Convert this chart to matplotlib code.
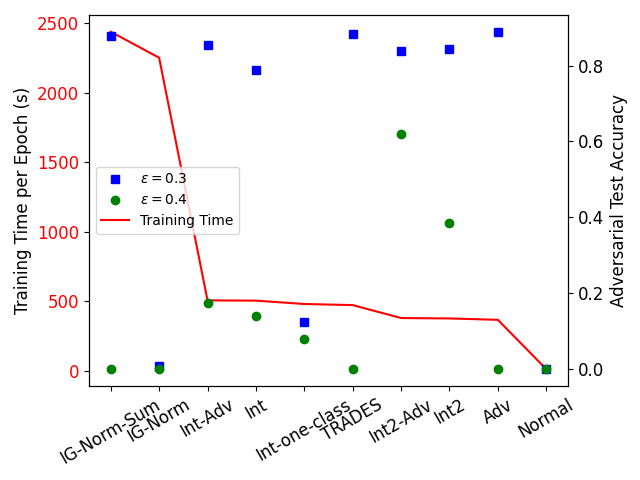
import numpy as np
import matplotlib.pyplot as plt

methods = ["IG-Norm-Sum", "IG-Norm", "Int-Adv", "Int", "Int-one-class",
           "TRADES", "Int2-Adv", "Int2", "Adv", "Normal"]
train_time = [2440, 2253, 508, 506, 482, 474, 381, 378, 368, 14]
acc_eps03 = [0.879, 0.008, 0.855, 0.789, 0.123, 0.884, 0.839, 0.844, 0.889, 0.0]
acc_eps04 = [0.0, 0.0, 0.174, 0.140, 0.078, 0.0, 0.620, 0.385, 0.0, 0.0]

x = np.arange(len(methods))

fig, ax1 = plt.subplots(figsize=(6.4, 4.8))
line, = ax1.plot(x, train_time, color="red", label="Training Time")
ax1.set_ylabel("Training Time per Epoch (s)", fontsize=12)
ax1.tick_params(axis="y", labelcolor="red", labelsize=12)
ax1.set_xticks(x)
ax1.set_xticklabels(methods, rotation=30, fontsize=12)

ax2 = ax1.twinx()
p1, = ax2.plot(x, acc_eps03, "s", color="blue", linestyle="none", label=r"$\epsilon=0.3$")
p2, = ax2.plot(x, acc_eps04, "o", color="green", linestyle="none", label=r"$\epsilon=0.4$")
ax2.set_ylabel("Adversarial Test Accuracy", fontsize=12)
ax2.tick_params(axis="y", labelsize=12)

ax2.legend(handles=[p1, p2, line], loc="center left")

fig.subplots_adjust(left=0.139, right=0.8875, top=0.969, bottom=0.196)
plt.savefig("out.png", dpi=100)
